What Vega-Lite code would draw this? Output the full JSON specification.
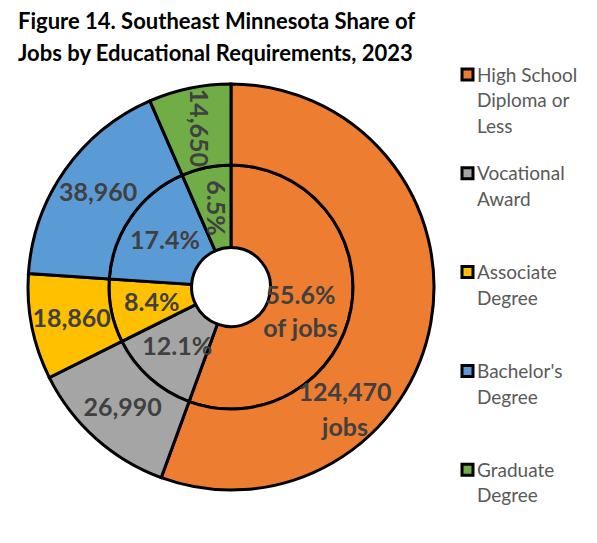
{
  "$schema": "https://vega.github.io/schema/vega-lite/v6.json",
  "width": 426,
  "height": 420,
  "padding": {"left": 18, "top": 11, "right": 0, "bottom": 0},
  "background": "white",
  "config": {"view": {"stroke": null}},
  "title": {
    "text": ["Figure 14. Southeast Minnesota Share of", "Jobs by Educational Requirements, 2023"],
    "anchor": "start",
    "frame": "group",
    "font": "Lato",
    "fontSize": 22,
    "fontWeight": "bold",
    "color": "#000000",
    "lineHeight": 32,
    "offset": -1
  },
  "data": {
    "values": [
      {"cat": "High School Diploma or Less", "jobs": 124470, "share": 0.556},
      {"cat": "Vocational Award", "jobs": 26990, "share": 0.121},
      {"cat": "Associate Degree", "jobs": 18860, "share": 0.084},
      {"cat": "Bachelor's Degree", "jobs": 38960, "share": 0.174},
      {"cat": "Graduate Degree", "jobs": 14650, "share": 0.065}
    ]
  },
  "transform": [
    {"calculate": "indexof([\"High School Diploma or Less\", \"Vocational Award\", \"Associate Degree\", \"Bachelor's Degree\", \"Graduate Degree\"], datum.cat)", "as": "idx"},
    {"stack": "jobs", "groupby": [], "sort": [{"field": "idx", "order": "ascending"}], "as": ["j0", "j1"]},
    {"calculate": "(datum.j0 + datum.j1) / 2", "as": "jmid"}
  ],
  "layer": [
    {
      "mark": {"type": "arc", "innerRadius": 39.5, "outerRadius": 122, "stroke": "black", "strokeWidth": 3},
      "encoding": {
        "theta": {"field": "j1", "type": "quantitative", "scale": {"nice": false, "zero": true}},
        "theta2": {"field": "j0"},
        "color": {
          "field": "cat", "type": "nominal",
          "scale": {
            "domain": ["High School Diploma or Less", "Vocational Award", "Associate Degree", "Bachelor's Degree", "Graduate Degree"],
            "range": ["#ED7D31", "#A5A5A5", "#FFC000", "#5B9BD5", "#70AD47"]
          },
          "legend": {
            "title": null,
            "orient": "none",
            "legendX": 440,
            "legendY": -12,
            "padding": 0,
            "symbolType": "square",
            "symbolSize": 121,
            "symbolStrokeColor": "black",
            "symbolStrokeWidth": 3,
            "symbolOpacity": 1,
            "labelFont": "Lato",
            "labelFontSize": 19,
            "labelColor": "#595959",
            "labelOffset": 0,
            "labelBaseline": "top",
            "labelLimit": 200,
            "rowPadding": 24.8,
            "labelExpr": "datum.label == 'High School Diploma or Less' ? ['High School', 'Diploma or', 'Less'] : [split(datum.label, ' ')[0], split(datum.label, ' ')[1], ' ']",
            "encode": {"labels": {"update": {"lineHeight": {"value": 25.7}, "dy": {"value": -8}}}}
          }
        }
      }
    },
    {
      "mark": {"type": "arc", "innerRadius": 122, "outerRadius": 203, "stroke": "black", "strokeWidth": 3},
      "encoding": {
        "theta": {"field": "j1", "type": "quantitative"},
        "theta2": {"field": "j0"},
        "color": {"field": "cat", "type": "nominal"}
      }
    },
    {
      "transform": [{"filter": "datum.idx >= 1 && datum.idx <= 3"}],
      "mark": {"type": "text", "radius": 80.75, "font": "Lato", "fontSize": 25, "fontWeight": "bold", "fill": "#404040", "align": "center", "baseline": "middle"},
      "encoding": {
        "theta": {"field": "jmid", "type": "quantitative", "stack": null},
        "text": {"field": "share", "type": "quantitative", "format": ".1%"}
      }
    },
    {
      "transform": [{"filter": "datum.idx == 4"}],
      "mark": {"type": "text", "radius": 80.75, "angle": 90, "font": "Lato", "fontSize": 25, "fontWeight": "bold", "fill": "#404040", "align": "center", "baseline": "middle"},
      "encoding": {
        "theta": {"field": "jmid", "type": "quantitative", "stack": null},
        "text": {"field": "share", "type": "quantitative", "format": ".1%"}
      }
    },
    {
      "transform": [{"filter": "datum.idx == 0"}, {"calculate": "format(datum.share, '.1%') + '\\n' + 'of jobs'", "as": "lbl"}],
      "mark": {"type": "text", "radius": 80.75, "dx": -10, "dy": -5, "lineBreak": "\n", "lineHeight": 33, "font": "Lato", "fontSize": 25, "fontWeight": "bold", "fill": "#404040", "align": "center", "baseline": "middle"},
      "encoding": {
        "theta": {"field": "jmid", "type": "quantitative", "stack": null},
        "text": {"field": "lbl", "type": "nominal"}
      }
    },
    {
      "transform": [{"filter": "datum.idx >= 1 && datum.idx <= 3"}],
      "mark": {"type": "text", "radius": 162.5, "font": "Lato", "fontSize": 25, "fontWeight": "bold", "fill": "#404040", "align": "center", "baseline": "middle"},
      "encoding": {
        "theta": {"field": "jmid", "type": "quantitative", "stack": null},
        "text": {"field": "jobs", "type": "quantitative", "format": ","}
      }
    },
    {
      "transform": [{"filter": "datum.idx == 4"}],
      "mark": {"type": "text", "radius": 162.5, "angle": 90, "font": "Lato", "fontSize": 25, "fontWeight": "bold", "fill": "#404040", "align": "center", "baseline": "middle"},
      "encoding": {
        "theta": {"field": "jmid", "type": "quantitative", "stack": null},
        "text": {"field": "jobs", "type": "quantitative", "format": ","}
      }
    },
    {
      "transform": [{"filter": "datum.idx == 0"}, {"calculate": "format(datum.jobs, ',') + '\\n' + 'jobs'", "as": "lbl"}],
      "mark": {"type": "text", "radius": 162.5, "dx": -46, "dy": 78, "lineBreak": "\n", "lineHeight": 35, "font": "Lato", "fontSize": 25, "fontWeight": "bold", "fill": "#404040", "align": "center", "baseline": "middle"},
      "encoding": {
        "theta": {"field": "jmid", "type": "quantitative", "stack": null},
        "text": {"field": "lbl", "type": "nominal"}
      }
    }
  ]
}
